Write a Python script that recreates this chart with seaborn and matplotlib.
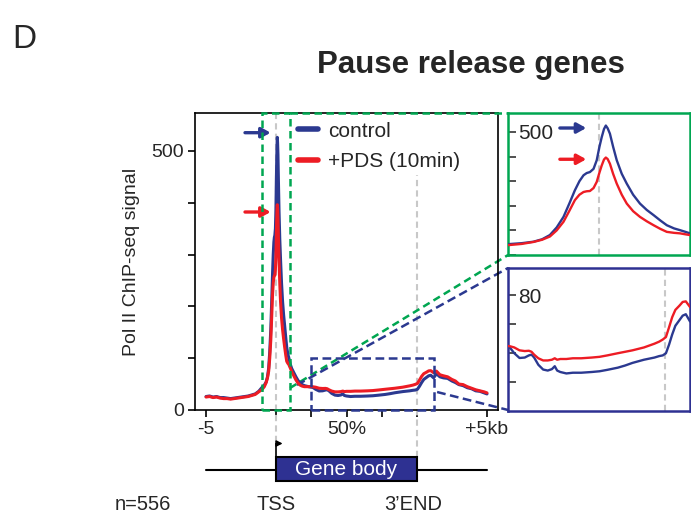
import numpy as np
import pandas as pd
import seaborn as sns
import matplotlib.pyplot as plt
import matplotlib.font_manager as fm
from matplotlib.patches import Rectangle
from matplotlib.lines import Line2D

# metagene position: 0 = -5kb, 1 = TSS, 3 = 3'END, 4 = +5kb (gene body scaled 0-100%)
position = [0.00, 0.05, 0.10, 0.15, 0.20, 0.25, 0.30, 0.35, 0.40, 0.45, 0.50, 0.55, 0.60, 0.65, 0.70, 0.75,
            0.80, 0.83, 0.856, 0.875, 0.892, 0.907, 0.922, 0.935, 0.947, 0.957, 0.966, 0.973, 0.98, 0.988, 0.995,
            1.001, 1.006, 1.011, 1.015, 1.019, 1.024, 1.031, 1.039, 1.05, 1.061, 1.075, 1.09, 1.105, 1.12, 1.135,
            1.149, 1.165, 1.178, 1.19, 1.20,
            1.22, 1.25, 1.28, 1.31, 1.34, 1.37, 1.40, 1.43, 1.46,
            1.50, 1.52, 1.56, 1.61, 1.66, 1.70, 1.725, 1.75, 1.79, 1.836, 1.88, 1.92, 1.947, 1.97, 2.00,
            2.058, 2.12, 2.20, 2.30, 2.375, 2.45, 2.55, 2.62, 2.69, 2.80, 2.90, 2.945, 2.98, 3.01, 3.04,
            3.07, 3.10, 3.14, 3.17, 3.20, 3.24,
            3.28, 3.33, 3.38, 3.44, 3.50, 3.55, 3.60, 3.66, 3.72, 3.78, 3.84, 3.90, 3.96, 4.00]

control = [26, 27, 25, 26, 24, 24, 23, 22, 23, 24, 25, 26, 27, 29, 31, 36,
           44, 48, 54, 64, 81, 112, 155, 210, 263, 300, 324, 333, 337, 350, 385,
           440, 479, 512, 526, 515, 493, 440, 385, 330, 290, 245, 209, 183, 162, 140,
           121, 108, 101, 94, 88,
           80, 72, 64, 57, 52, 49, 47, 46, 45,
           44, 43.7, 40, 36.7, 37, 38.5, 39, 37, 32, 28.7, 28, 29, 31, 28, 27,
           26, 26.5, 26.5, 27, 27.5, 28.5, 30, 31.5, 33.3, 35.5, 37, 38, 38.5, 40, 46,
           53, 59, 63, 66, 67, 62,
           70, 64, 62, 61, 56, 53, 49, 47, 43, 41, 37, 36, 33, 31]

pds = [25, 26, 24, 25, 23, 22, 22, 21, 22, 23, 24, 25, 26, 28, 30, 35,
       40, 45, 53, 62, 75, 100, 135, 180, 223, 245, 256, 259, 260, 272, 297,
       335, 364, 388, 396, 390, 371, 330, 290, 245, 209, 178, 155, 137, 121, 106,
       94, 90, 88, 84, 81,
       74, 66, 58, 52, 48, 46, 45, 45, 45,
       45, 44.8, 44, 42, 41.5, 41.7, 41, 39, 36.5, 35, 35, 35.5, 36.5, 35.5, 36,
       36, 36.5, 36.5, 37, 37.5, 38.5, 40, 41, 42, 44, 46.6, 48, 49.5, 51.2, 58,
       65, 70, 73, 75.5, 75.9, 72,
       75, 68, 66, 64, 59, 56, 50, 49, 45, 42, 39, 37, 35, 33]

conditions = ['control', '+PDS (10min)']
xticks = [0, 1, 1.5, 2, 2.5, 3, 4]
xticklabels = ['-5', '', '', '50%', '', '', '+5kb']

BLUE = '#2b3990'
RED = '#ed1c24'
GREEN = '#00a651'
GRAY = '#c8c8c8'
BOX = '#2e3192'

sns.set_theme(style='ticks')
plt.rcParams['font.family'] = ['Liberation Sans', 'DejaVu Sans']
plt.rcParams['axes.linewidth'] = 1.2

names = {f.name for f in fm.fontManager.ttflist}
narrow = 'Liberation Sans Narrow' in names

n = len(position)
df = pd.DataFrame({'position': position * 2,
                   'signal': control + pds,
                   'condition': [conditions[0]] * n + [conditions[1]] * n})
palette = {conditions[0]: BLUE, conditions[1]: RED}

fig = plt.figure(figsize=(6.91, 5.19), dpi=100)
W, H = 691, 519


def box(l, t, r, b):
    return [l / W, 1 - b / H, (r - l) / W, (b - t) / H]


# main panel
ax = fig.add_axes(box(195, 113, 498, 410))
sns.lineplot(data=df, x='position', y='signal', hue='condition', palette=palette,
             estimator=None, sort=False, lw=2.2, legend=False, ax=ax, zorder=3)
ax.set_xlim(-0.157, 4.157)
ax.set_ylim(0, 573)
ax.set_xticks(xticks)
ax.set_xticklabels(xticklabels)
ax.set_yticks(range(0, 600, 100))
ax.set_yticklabels(['0', '', '', '', '', '500'])
ax.tick_params(direction='out', length=5, width=1.2, labelsize=14, pad=3, color='black')
ax.set_xlabel('')
ax.set_ylabel('Pol II ChIP-seq signal', fontsize=14, labelpad=8)
for s in ax.spines.values():
    s.set_color('black')

ax.axvline(1, ymin=-0.108, ymax=1, color=GRAY, lw=1.5, ls=(0, (3, 2)), clip_on=False, zorder=1)
ax.axvline(3, ymin=-0.158, ymax=1, color=GRAY, lw=1.5, ls=(0, (3, 2)), clip_on=False, zorder=1)

# zoom boxes and connectors
gdash = (0, (3, 1.8))
bdash = (0, (3.5, 1.8))
ax.add_patch(Rectangle((0.8, 0), 0.4, 573, fill=False, ec=GREEN, lw=1.8, ls=gdash, clip_on=False, zorder=4))
ax.plot([1.2, 4.30], [573, 573], color=GREEN, lw=1.8, ls=gdash, clip_on=False, zorder=4)
ax.plot([1.196, 4.30], [42.5, 299], color=GREEN, lw=1.8, ls=gdash, clip_on=False, zorder=2)
ax.add_patch(Rectangle((1.5, 0), 1.74, 100, fill=False, ec=BLUE, lw=1.8, ls=bdash, clip_on=False, zorder=4))
ax.plot([1.295, 4.30], [48.3, 274], color=BLUE, lw=1.8, ls=bdash, clip_on=False, zorder=2)
ax.plot([3.29, 4.30], [34.7, 0], color=BLUE, lw=1.8, ls=bdash, clip_on=False, zorder=2)

arrow = '-|>,head_length=0.45,head_width=0.25'
ax.annotate('', xy=(0.92, 535), xytext=(0.555, 535),
            arrowprops=dict(arrowstyle=arrow, color=BLUE, lw=2.4, shrinkA=0, shrinkB=0, mutation_scale=12))
ax.annotate('', xy=(0.92, 382), xytext=(0.555, 382),
            arrowprops=dict(arrowstyle=arrow, color=RED, lw=2.4, shrinkA=0, shrinkB=0, mutation_scale=12))

handles = [Line2D([0], [0], color=BLUE, lw=4, solid_capstyle='round'),
           Line2D([0], [0], color=RED, lw=4, solid_capstyle='round')]
leg = ax.legend(handles, conditions, loc='upper left', bbox_to_anchor=(0.327, 0.985),
                frameon=True, fancybox=False, facecolor='white', edgecolor='none', framealpha=1,
                fontsize=15, handlelength=0.95, handletextpad=0.5, borderpad=0.2,
                labelspacing=0.55, borderaxespad=0)
leg.set_zorder(5)

# inset: TSS zoom
ax1 = fig.add_axes(box(508, 113, 690, 255))
sns.lineplot(data=df, x='position', y='signal', hue='condition', palette=palette,
             estimator=None, sort=False, lw=1.7, legend=False, ax=ax1, zorder=3)
ax1.set_xlim(0.8, 1.2)
ax1.set_ylim(0, 577)
ax1.set_xticks([])
ax1.set_yticks(range(0, 600, 100))
ax1.set_yticklabels(['', '', '', '', '', '500'])
ax1.axvline(1, color=GRAY, lw=1.5, ls=(0, (3, 2)), zorder=1)
ax1.annotate('', xy=(0.972, 516), xytext=(0.914, 516),
             arrowprops=dict(arrowstyle=arrow, color=BLUE, lw=2.4, shrinkA=0, shrinkB=0, mutation_scale=12))
ax1.annotate('', xy=(0.972, 389), xytext=(0.914, 389),
             arrowprops=dict(arrowstyle=arrow, color=RED, lw=2.4, shrinkA=0, shrinkB=0, mutation_scale=12))
for s in ax1.spines.values():
    s.set_color(GREEN)
    s.set_linewidth(1.8)

# inset: gene body zoom
ax2 = fig.add_axes(box(508, 268, 690, 411))
sns.lineplot(data=df, x='position', y='signal', hue='condition', palette=palette,
             estimator=None, sort=False, lw=1.7, legend=False, ax=ax2, zorder=3)
ax2.set_xlim(1.5, 3.24)
ax2.set_ylim(0, 99)
ax2.set_xticks([])
ax2.set_yticks([20, 40, 60, 80])
ax2.set_yticklabels(['', '', '', '80'])
ax2.axvline(3, color=GRAY, lw=1.5, ls=(0, (3, 2)), zorder=1)
for s in ax2.spines.values():
    s.set_color(BOX)
    s.set_linewidth(1.8)

for a in (ax1, ax2):
    a.set_xlabel('')
    a.set_ylabel('')
    a.tick_params(axis='y', direction='in', length=6, width=1.2, color='#333333',
                  labelsize=15, pad=-7)
    for lbl in a.get_yticklabels():
        lbl.set_horizontalalignment('left')

# gene diagram
gax = fig.add_axes(box(195, 430, 498, 519))
gax.set_xlim(-0.157, 4.157)
gax.set_ylim(519, 430)
gax.axis('off')
gax.plot([0, 4], [470, 470], color='black', lw=1.5, zorder=1)
gax.add_patch(Rectangle((1, 457), 2, 24, fc=BOX, ec='black', lw=1.5, zorder=2))
gax.text(2, 469.5, 'Gene body', color='white', fontsize=15, ha='center', va='center', zorder=3)
gax.plot([1, 1], [457, 443.5], color='black', lw=1.2, zorder=2)
gax.annotate('', xy=(1.09, 443.5), xytext=(0.995, 443.5),
             arrowprops=dict(arrowstyle='-|>,head_length=0.35,head_width=0.18', color='black',
                             lw=1.1, shrinkA=0, shrinkB=0, mutation_scale=10))
gax.text(1, 504, 'TSS', fontsize=14.5, ha='center', va='center')
gax.text(2.95, 504, '3\u2019END', fontsize=14.5, ha='center', va='center')
gax.text(-1.295, 504, 'n=556', fontsize=14.5, ha='left', va='center', clip_on=False)

# headings
if narrow:
    fig.text(471 / W, 1 - 73 / H, 'Pause release genes', family='Liberation Sans Narrow',
             weight='bold', size=27, ha='center', va='baseline')
    fig.text(12 / W, 1 - 48 / H, 'D', family='Liberation Sans Narrow', size=27, va='baseline')
else:
    fig.text(471 / W, 1 - 73 / H, 'Pause release genes', weight='bold', size=22.5,
             ha='center', va='baseline')
    fig.text(12 / W, 1 - 48 / H, 'D', size=24, va='baseline')

fig.savefig('out.png', dpi=100)
plt.close(fig)
